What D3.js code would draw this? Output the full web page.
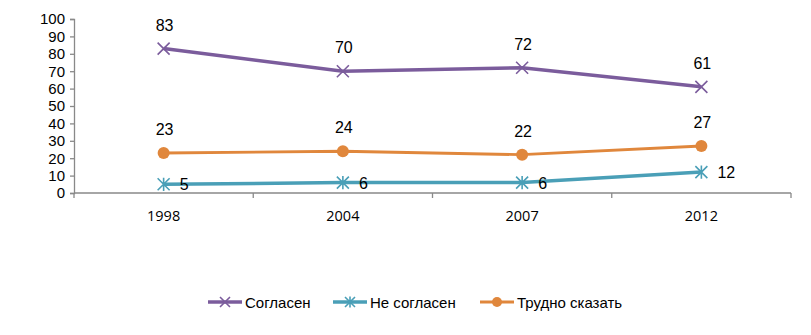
<!DOCTYPE html>
<html><head><meta charset="utf-8">
<script src="https://cdn.jsdelivr.net/npm/d3@7"></script>
<style>body{margin:0;background:#fff}svg{display:block}</style>
</head><body>
<svg id="c" width="811" height="335"></svg>
<script>
const years = ["1998","2004","2007","2012"];
const agree = [83,70,72,61];
const disagree = [5,6,6,12];
const hard = [23,24,22,27];
const yTicks = [0,10,20,30,40,50,60,70,80,90,100];
const seriesNames = ["Согласен","Не согласен","Трудно сказать"];

const svg = d3.select("#c");
const x = d3.scaleBand().domain(years).range([74,791]);
const y = d3.scaleLinear().domain([0,100]).range([193,19]);
const axisCol = "#898989";
const font = "'Liberation Sans', Arial, sans-serif";

// y axis
const ya = svg.append("g").attr("transform","translate(74,0)")
  .call(d3.axisLeft(y).tickValues(yTicks).tickSize(4).tickPadding(5).tickFormat(d3.format("d")));
ya.select(".domain").attr("stroke",axisCol).attr("stroke-width",1.3);
ya.selectAll(".tick line").attr("stroke",axisCol).attr("stroke-width",1.3);
ya.selectAll("text").attr("font-family",font).attr("font-size",15).attr("fill","#000");

// x axis
const xa = svg.append("g").attr("transform","translate(0,193)");
xa.append("line").attr("x1",x.range()[0]).attr("x2",x.range()[1]).attr("stroke",axisCol).attr("stroke-width",1.3);
const bounds = years.map(d=>x(d)).concat([x.range()[1]]);
xa.selectAll("line.t").data(bounds).join("line").attr("class","t")
  .attr("x1",d=>d).attr("x2",d=>d).attr("y1",0).attr("y2",5).attr("stroke",axisCol).attr("stroke-width",1.3);
xa.selectAll("text").data(years).join("text")
  .attr("x",d=>x(d)+x.bandwidth()/2).attr("y",28).attr("text-anchor","middle")
  .attr("font-family","'Open Sans', sans-serif").attr("font-size",14.5).attr("fill","#000").text(d=>d);

const cx = d => x(d)+x.bandwidth()/2;
const series = [
  {name:seriesNames[0], vals:agree, color:"#7b5c9c", w:3.5, marker:"x", lab:"above"},
  {name:seriesNames[1], vals:disagree, color:"#4a9fb7", w:3.5, marker:"star", lab:"right"},
  {name:seriesNames[2], vals:hard, color:"#e0873c", w:2.8, marker:"circle", lab:"above"}
];

function drawMarker(g, type, color, px, py, s){
  if(type==="x"){
    g.append("path").attr("d",`M${px-s},${py-s}L${px+s},${py+s}M${px-s},${py+s}L${px+s},${py-s}`)
      .attr("stroke",color).attr("stroke-width",1.6).attr("fill","none");
  } else if(type==="star"){
    g.append("path").attr("d",`M${px-s},${py-s}L${px+s},${py+s}M${px-s},${py+s}L${px+s},${py-s}M${px},${py-s*1.1}L${px},${py+s*1.1}`)
      .attr("stroke",color).attr("stroke-width",1.6).attr("fill","none");
  } else {
    g.append("circle").attr("cx",px).attr("cy",py).attr("r",s).attr("fill",color);
  }
}

const line = d3.line().x(d=>cx(d.year)).y(d=>y(d.v));
const order = [0,2,1];
order.forEach(i=>{
  const s = series[i];
  const pts = years.map((yr,j)=>({year:yr,v:s.vals[j]}));
  const g = svg.append("g");
  g.append("path").datum(pts).attr("d",line).attr("fill","none").attr("stroke",s.color).attr("stroke-width",s.w);
  pts.forEach(p=>drawMarker(g, s.marker, s.color, cx(p.year), y(p.v), 6));
  g.selectAll("text").data(pts).join("text")
    .attr("x",p=> s.lab==="above"? cx(p.year)+1 : cx(p.year)+16)
    .attr("y",p=> s.lab==="above"? y(p.v)-18 : y(p.v)+6)
    .attr("text-anchor", s.lab==="above"?"middle":"start")
    .attr("font-family",font).attr("font-size",16).attr("fill","#000").text(p=>p.v);
});

// legend
const legX = [208,333,480];
series.forEach((s,i)=>{
  const g = svg.append("g");
  const lx = legX[i], ly = 302;
  g.append("line").attr("x1",lx).attr("x2",lx+34).attr("y1",ly).attr("y2",ly).attr("stroke",s.color).attr("stroke-width",s.w);
  drawMarker(g, s.marker, s.color, lx+17, ly, 5);
  g.append("text").attr("x",lx+37).attr("y",ly+5.5).attr("font-family",font).attr("font-size",15).attr("fill","#000").text(s.name);
});
</script>
</body></html>
